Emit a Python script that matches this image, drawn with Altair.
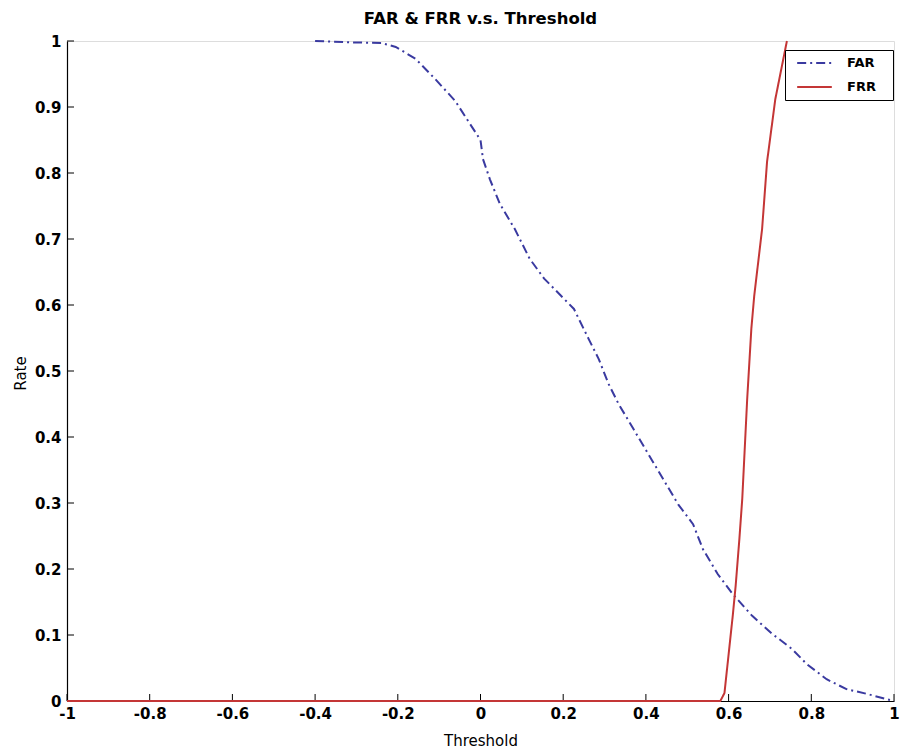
import altair as alt
import pandas as pd

# FAR curve (blue dash-dot)
far_x = [-0.40, -0.32, -0.24, -0.205, -0.157, -0.109, -0.061, -0.025, 0.0, 0.006, 0.023,
         0.047, 0.083, 0.119, 0.154, 0.19, 0.226, 0.262, 0.286, 0.31, 0.334, 0.37, 0.406,
         0.442, 0.478, 0.514, 0.538, 0.574, 0.61, 0.657, 0.705, 0.753, 0.789, 0.837,
         0.885, 0.933, 0.981, 1.0]
far_y = [1.0, 0.998, 0.997, 0.991, 0.973, 0.942, 0.909, 0.874, 0.85, 0.821, 0.79,
         0.753, 0.715, 0.67, 0.64, 0.617, 0.594, 0.548, 0.518, 0.48, 0.45, 0.412, 0.374,
         0.336, 0.298, 0.268, 0.23, 0.192, 0.162, 0.129, 0.102, 0.079, 0.056, 0.033,
         0.018, 0.011, 0.003, 0.0]

# FRR curve (red solid)
frr_x = [-1.0, 0.58, 0.59, 0.597, 0.61, 0.617, 0.626, 0.633, 0.645, 0.655, 0.662,
         0.681, 0.693, 0.713, 0.741]
frr_y = [0.0, 0.0, 0.012, 0.053, 0.129, 0.174, 0.245, 0.306, 0.458, 0.564, 0.614,
         0.715, 0.817, 0.912, 1.0]

x_ticks = [-1, -0.8, -0.6, -0.4, -0.2, 0, 0.2, 0.4, 0.6, 0.8, 1]
y_ticks = [0, 0.1, 0.2, 0.3, 0.4, 0.5, 0.6, 0.7, 0.8, 0.9, 1]

series = ["FAR", "FRR"]
colors = ["#3a3aa0", "#c43636"]

df = pd.concat([
    pd.DataFrame({"Threshold": far_x, "Rate": far_y, "Series": "FAR"}),
    pd.DataFrame({"Threshold": frr_x, "Rate": frr_y, "Series": "FRR"}),
])

W, H = 827, 660
xscale = alt.Scale(domain=[-1, 1], nice=False, zero=False)
yscale = alt.Scale(domain=[0, 1], nice=False, zero=False)

LBL_FONT = "DejaVu Sans"

xaxis = alt.Axis(values=x_ticks, ticks=False, labelPadding=5, labelFontSize=15,
                 labelFontWeight="bold", labelFont=LBL_FONT, labelColor="black",
                 domainColor="black", domainWidth=1.2, grid=False,
                 title="Threshold", titleFontSize=15, titleFontWeight="normal",
                 titleFont=LBL_FONT, titleColor="black", titlePadding=12,
                 labelFlush=False, labelOverlap=False, labelExpr="datum.value + ''")
yaxis = alt.Axis(values=y_ticks, ticks=False, labelPadding=6, labelFontSize=15,
                 labelFontWeight="bold", labelFont=LBL_FONT, labelColor="black",
                 domainColor="black", domainWidth=1.2, grid=False,
                 title="Rate", titleFontSize=15, titleFontWeight="normal",
                 titleFont=LBL_FONT, titleColor="black", titleX=-39, titleY=332,
                 titleAnchor="middle",
                 labelFlush=False, labelOverlap=False, labelExpr="datum.value + ''")

legend_kw = dict(title=None, orient="none", legendX=718, legendY=9,
                 symbolType="stroke", symbolSize=1200, symbolStrokeWidth=2,
                 symbolOffset=5,
                 labelFontSize=13, labelFontWeight="bold", labelFont=LBL_FONT,
                 labelColor="black", labelOffset=14, clipHeight=14, rowPadding=10,
                 padding=6, strokeColor="black", fillColor="white", cornerRadius=0,
                 zindex=3,
                 labelExpr="datum.label + '\u2800'")

lines = alt.Chart(df).mark_line(strokeWidth=2).encode(
    x=alt.X("Threshold:Q", scale=xscale, axis=xaxis),
    y=alt.Y("Rate:Q", scale=yscale, axis=yaxis),
    color=alt.Color("Series:N", scale=alt.Scale(domain=series, range=colors),
                    legend=alt.Legend(**legend_kw)),
    strokeDash=alt.StrokeDash("Series:N",
                              scale=alt.Scale(domain=series, range=[[9, 4, 2, 4], [1, 0]]),
                              legend=alt.Legend(**legend_kw)),
)

xt = pd.DataFrame({"t": x_ticks})
yt = pd.DataFrame({"t": y_ticks})
xtick_rules = alt.Chart(xt).mark_rule(color="black", strokeWidth=1).encode(
    x=alt.X("t:Q", scale=xscale), y=alt.value(H), y2=alt.value(H - 7))
ytick_rules = alt.Chart(yt).mark_rule(color="black", strokeWidth=1).encode(
    y=alt.Y("t:Q", scale=yscale), x=alt.value(0), x2=alt.value(7))

chart = alt.layer(xtick_rules, ytick_rules, lines).properties(
    width=W, height=H,
    title=alt.TitleParams("FAR & FRR v.s. Threshold", fontSize=16.5, fontWeight="bold",
                          font=LBL_FONT, color="black", anchor="middle", offset=7),
    autosize=alt.AutoSizeParams(type="none"),
    padding={"left": 59, "top": 33, "right": 6, "bottom": 48},
).configure_view(stroke=None).configure(background="white")

chart.save("out.html", embed_options={"renderer": "svg", "actions": False})
